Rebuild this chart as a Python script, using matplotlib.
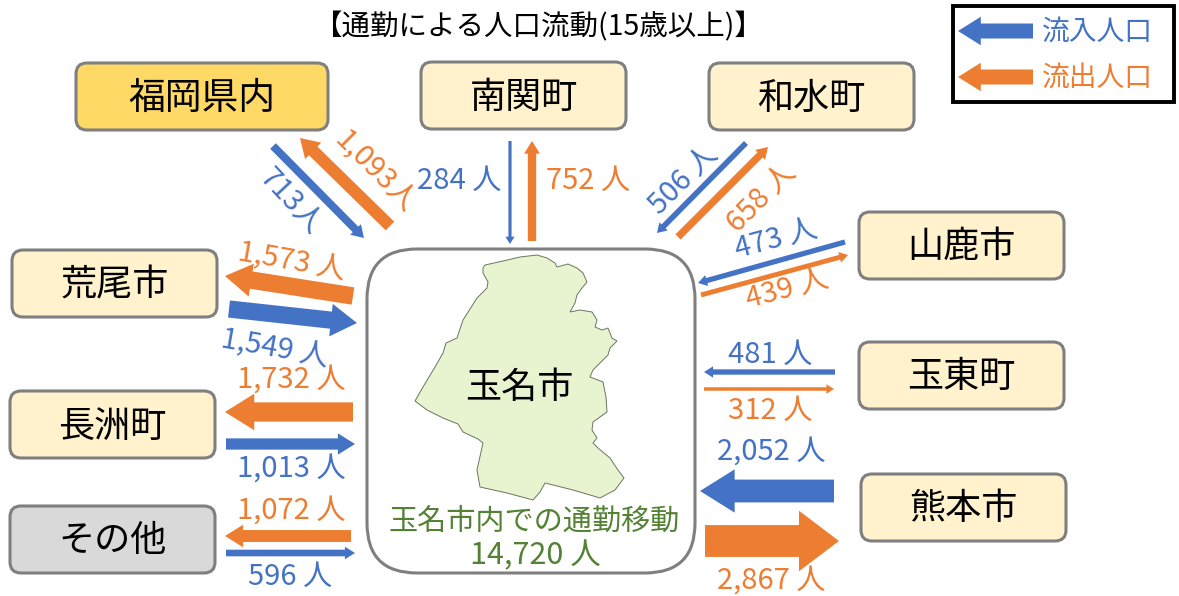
import numpy as np
import matplotlib
matplotlib.use("Agg")
import matplotlib.pyplot as plt
from matplotlib.patches import FancyBboxPatch, Polygon

plt.rcParams['font.family'] = ['Noto Sans CJK JP', 'DejaVu Sans']

# data
places = ["福岡県内", "南関町", "和水町", "山鹿市", "玉東町", "熊本市", "荒尾市", "長洲町", "その他"]
inflow = [713, 284, 506, 473, 481, 2052, 1549, 1013, 596]
outflow = [1093, 752, 658, 439, 312, 2867, 1573, 1732, 1072]
inner_label = "玉名市内での通勤移動"
inner_count = 14720
title = "【通勤による人口流動(15歳以上)】"
legend_names = ["流入人口", "流出人口"]

BLUE = "#4472C4"
ORANGE = "#ED7D31"
GREEN = "#548235"

# layout in pixels: box (x0, y0, x1, y1)
boxes = [(76, 63, 328, 130), (421, 62, 626, 129), (709, 63, 914, 130),
         (859, 212, 1064, 279), (859, 342, 1064, 409), (861, 474, 1066, 541),
         (12, 250, 217, 317), (10, 391, 215, 458), (10, 506, 215, 573)]
box_colors = ["#FFD966"] + ["#FFF2CC"] * 7 + ["#D9D9D9"]

# arrow start and end
in_arrows = [((273, 146), (364, 238)), ((510, 141), (510, 244)), ((746, 143), (657, 233)),
             ((845, 242), (698, 283)), ((835, 372), (704, 372)), ((834, 491), (700, 491)),
             ((229, 309), (357, 323)), ((226, 444), (355, 444)), ((226, 553), (355, 553))]
out_arrows = [((390, 226), (300, 138)), ((532, 241), (532, 141)), ((678, 237), (768, 147)),
              ((701, 295), (848, 255)), ((704, 389), (834, 389)), ((705, 541), (839, 541)),
              ((353, 296), (225, 276)), ((353, 412), (225, 412)), ((351, 536), (225, 536))]

# label centre and rotation
in_text = [(291, 202, -47), (459, 181, 0), (684, 180, 45), (776, 239, 15), (770, 355, 0),
           (771, 452, 0), (275, 348, -10), (291, 469, 0), (290, 577, 0)]
out_text = [(375, 172, -45), (588, 181, 0), (762, 198, 45), (787, 289, 15), (770, 411, 0),
            (771, 581, 0), (292, 261, -10), (291, 380, 0), (291, 511, 0)]

map_x = [483, 485, 503, 520, 537, 547, 555, 557, 568, 577, 583, 587, 582, 577, 575, 570, 580,
         592, 597, 595, 602, 608, 612, 617, 610, 608, 593, 590, 603, 606, 607, 593, 592, 597,
         593, 598, 610, 618, 624, 615, 600, 590, 573, 545, 540, 533, 507, 480, 477, 483, 478,
         463, 458, 443, 427, 415, 423, 435, 443, 446, 457, 463, 477, 487, 488, 483]
map_y = [268, 265, 261, 257, 255, 258, 263, 267, 264, 268, 273, 282, 288, 295, 303, 312, 310,
         312, 320, 327, 330, 328, 338, 341, 348, 355, 370, 377, 382, 397, 412, 422, 430, 438,
         443, 448, 458, 470, 478, 490, 498, 495, 490, 483, 492, 500, 493, 487, 470, 443, 439,
         432, 424, 418, 410, 401, 387, 367, 353, 343, 338, 320, 298, 288, 282, 273]


def draw_arrow(ax, start, end, value, color):
    # shaft thickness follows the number of people
    w = max(value / 90, 1.2)
    hw = max(w * 1.9, w + 6)
    hl = min(max(hw * 0.8, 7), 40)
    p0 = np.array(start, dtype=float)
    p1 = np.array(end, dtype=float)
    d = (p1 - p0) / np.hypot(*(p1 - p0))
    n = np.array([-d[1], d[0]])
    b = p1 - d * hl
    pts = [p0 + n * w / 2, b + n * w / 2, b + n * hw / 2, p1,
           b - n * hw / 2, b - n * w / 2, p0 - n * w / 2]
    ax.add_patch(Polygon(pts, closed=True, facecolor=color, edgecolor="none", zorder=3))


def round_box(ax, x0, y0, x1, y1, r, face, edge="#7F7F7F", lw=2.2):
    ax.add_patch(FancyBboxPatch((x0 + r, y0 + r), x1 - x0 - 2 * r, y1 - y0 - 2 * r,
                                boxstyle=f"round,pad={r},rounding_size={r}",
                                facecolor=face, edgecolor=edge, linewidth=lw, zorder=2))


fig = plt.figure(figsize=(11.79, 5.96), dpi=100)
ax = fig.add_axes([0, 0, 1, 1])
ax.set_xlim(0, 1179)
ax.set_ylim(596, 0)
ax.axis("off")

ax.text(538, 27, title, fontsize=20.5, ha="center", va="center", color="black")

# centre box and map
round_box(ax, 367, 249, 695, 573, 50, "white")
ax.add_patch(Polygon(list(zip(map_x, map_y)), closed=True, facecolor="#E8F3CF",
                     edgecolor="#6B7560", linewidth=0.7, zorder=2.5))
ax.text(519, 388, "玉名市", fontsize=26, ha="center", va="center", color="black", zorder=4)
ax.text(534, 522, inner_label, fontsize=21, ha="center", va="center", color=GREEN, zorder=4)
ax.text(535, 556, f"{inner_count:,} 人", fontsize=22, ha="center", va="center", color=GREEN, zorder=4)

for i, name in enumerate(places):
    x0, y0, x1, y1 = boxes[i]
    round_box(ax, x0, y0, x1, y1, 11, box_colors[i])
    size = 26.5 if i == 0 else 26
    ax.text((x0 + x1) / 2, (y0 + y1) / 2 + 2, name, fontsize=size, ha="center", va="center",
            color="black", zorder=4)

    draw_arrow(ax, in_arrows[i][0], in_arrows[i][1], inflow[i], BLUE)
    draw_arrow(ax, out_arrows[i][0], out_arrows[i][1], outflow[i], ORANGE)

    sep = "" if i == 0 else " "
    tx, ty, rot = in_text[i]
    ax.text(tx, ty, f"{inflow[i]:,}{sep}人", fontsize=21, color=BLUE, ha="center", va="center",
            rotation=rot, rotation_mode="anchor", zorder=4)
    tx, ty, rot = out_text[i]
    ax.text(tx, ty, f"{outflow[i]:,}{sep}人", fontsize=21, color=ORANGE, ha="center", va="center",
            rotation=rot, rotation_mode="anchor", zorder=4)

# legend
ax.add_patch(plt.Rectangle((953, 6), 221, 96, facecolor="white", edgecolor="black", linewidth=2.8, zorder=2))
for name, c, y in zip(legend_names, [BLUE, ORANGE], [31, 77]):
    draw_arrow(ax, (1033, y), (958, y), 1350, c)
    ax.text(1097, y + 1, name, fontsize=20, color=c, ha="center", va="center", zorder=4)

fig.savefig("out.png", dpi=100)
